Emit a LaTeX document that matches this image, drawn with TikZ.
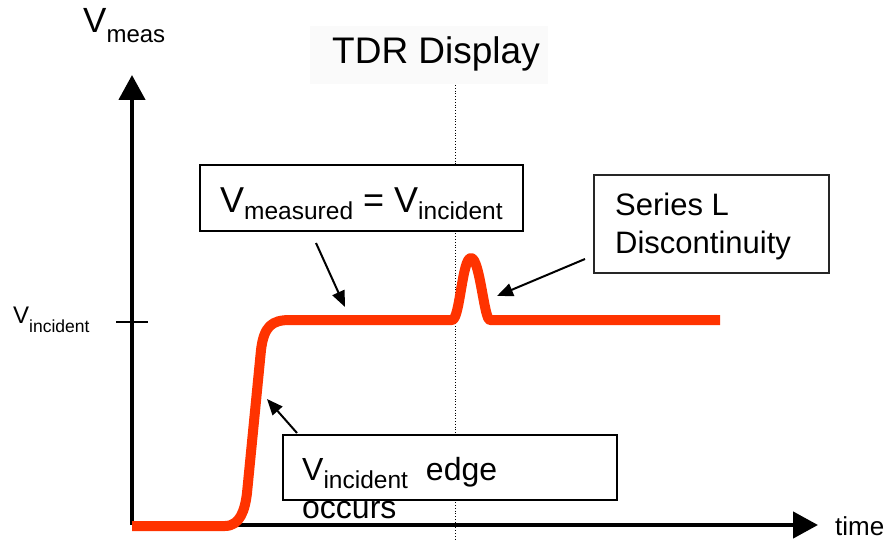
\documentclass[tikz,border=0pt]{standalone}
\usepackage{fontspec}
\setmainfont{Liberation Sans}
\usetikzlibrary{arrows.meta}
\definecolor{tdrred}{RGB}{255,51,0}
\newcommand{\fsz}[1]{\fontsize{#1}{#1}\selectfont}
\newcommand{\sbs}[3]{\raisebox{-#1pt}{\fsz{#2}#3}}
\begin{document}
\begin{tikzpicture}[x=1pt,y=-1pt,
  txt/.style={inner sep=0pt, anchor=base west},
  axis/.style={line width=4.5pt, -{Triangle[length=25pt,width=26pt]}},
  callout/.style={line width=2pt, -{Triangle[length=16pt,width=13pt]}},
  box/.style={draw, line width=1.8pt, fill=white, inner sep=0pt},
  signal/.style={line width=10pt, draw=tdrred, line join=round}]
\useasboundingbox (0,0) rectangle (886,540);

% title background and title
\node[fill=black!2, inner sep=0pt, minimum width=238pt, minimum height=58pt] (tdrbg) at (429,55) {};
\node[txt] (title) at (332,64) {\fsz{37}TDR Display};

% dotted marker line
\coordinate (dtop) at (455,85);
\coordinate (dbot) at (455,540);
\draw[dotted, line width=0.8pt] (dtop) -- (dbot);

% axes
\coordinate (origin) at (132,525);
\coordinate (ytip) at (132,75);
\coordinate (xtip) at (818,525);
\draw[axis] (origin) -- (ytip);
\draw[axis] (origin) -- (xtip);
\node[txt] (ylabel) at (83,33) {\fsz{35}V\sbs{10}{24}{meas}};
\node[txt] (xlabel) at (835,535) {\fsz{26}time};

% tick and its label
\coordinate (tickl) at (116,322);
\coordinate (tickr) at (148,322);
\draw[line width=1.8pt] (tickl) -- (tickr);
\node[txt] (vinc) at (13,323) {\fsz{24}V\sbs{9}{17.5}{incident}};

% signal
\draw[signal] (132,526) -- (225,526)
  .. controls (240,526) and (245,510) .. (247,493)
  -- (261,350)
  .. controls (264,326) and (272,320) .. (290,320)
  -- (452,320)
  .. controls (460,320) and (462,258) .. (471,258)
  .. controls (480,258) and (484,320) .. (490,320)
  -- (720,320);

% callout boxes
\node[box, minimum width=323pt, minimum height=66pt] (box1) at (361.5,198) {};
\node[txt] (box1text) at (220,212) {\fsz{36}V\sbs{7}{24.5}{measured} = V\sbs{7}{24.5}{incident}};

\node[box, draw=black!85, minimum width=235pt, minimum height=98pt] (box2) at (711.5,224) {};
\node[txt] (box2a) at (615,215) {\fsz{31}Series L};
\node[txt] (box2b) at (615,253) {\fsz{31}Discontinuity};

\node[box, minimum width=334pt, minimum height=65pt] (box3) at (450,467.5) {};
\node[txt] (box3a) at (302,480) {\fsz{32}V\sbs{8}{24.5}{incident}\hspace{18pt}edge};
\node[txt] (box3b) at (302,518) {\fsz{32}occurs};

% callout arrows
\coordinate (a1s) at (316,243);
\coordinate (a1e) at (345,307);
\draw[callout] (a1s) -- (a1e);
\coordinate (a2s) at (585,259);
\coordinate (a2e) at (497,296);
\draw[callout] (a2s) -- (a2e);
\coordinate (a3s) at (297,433);
\coordinate (a3e) at (267,399);
\draw[callout] (a3s) -- (a3e);
\end{tikzpicture}
\end{document}
